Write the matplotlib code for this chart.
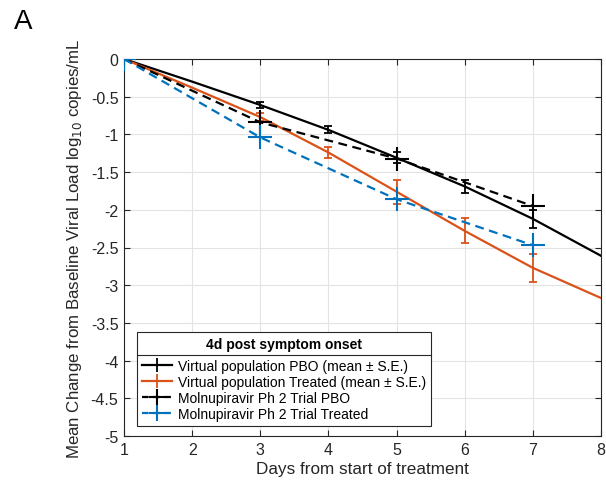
import matplotlib.pyplot as plt
from matplotlib.lines import Line2D

plt.rcParams['font.family'] = ['Liberation Sans', 'DejaVu Sans']
plt.rcParams['axes.unicode_minus'] = False

# model (virtual population), daily
days_model = [1, 2, 3, 4, 5, 6, 7, 8]
pbo_model = [0, -0.30, -0.61, -0.94, -1.31, -1.69, -2.12, -2.61]
trt_model = [0, -0.38, -0.77, -1.24, -1.76, -2.28, -2.77, -3.17]
# error bars at days 3..7
err_days = [3, 4, 5, 6, 7]
pbo_mean = [-0.61, -0.94, -1.31, -1.69, -2.12]
pbo_se = [0.035, 0.045, 0.07, 0.09, 0.12]
trt_mean = [-0.77, -1.24, -1.76, -2.28, -2.77]
trt_se = [0.05, 0.075, 0.16, 0.165, 0.19]

# trial data
days_trial = [1, 3, 5, 7]
pbo_trial = [0, -0.84, -1.32, -1.95]
trt_trial = [0, -1.04, -1.86, -2.47]

orange = '#D95319'
blue = '#0072BD'
dark = '#262626'

fig = plt.figure(figsize=(6.06, 4.85), dpi=100)
ax = fig.add_axes([124 / 606, 1 - 437 / 485, 477 / 606, 377 / 485])

ax.plot(days_model, pbo_model, color='k', lw=1.6, zorder=3)
ax.plot(days_model, trt_model, color=orange, lw=1.6, zorder=3)
ax.errorbar(err_days, pbo_mean, yerr=pbo_se, fmt='none', ecolor='k', elinewidth=1.3, capsize=3, capthick=1.3, zorder=4)
ax.errorbar(err_days, trt_mean, yerr=trt_se, fmt='none', ecolor=orange, elinewidth=1.3, capsize=3, capthick=1.3, zorder=4)
ax.plot(days_trial, pbo_trial, color='k', ls='--', lw=1.6, dashes=(4, 2.5), marker='+', ms=17, mew=1.5, zorder=5)
ax.plot(days_trial, trt_trial, color=blue, ls='--', lw=1.6, dashes=(4, 2.5), marker='+', ms=17, mew=1.5, zorder=5)

ax.set_xlim(1, 8)
ax.set_ylim(-5, 0)
ax.set_xticks(range(1, 9))
ax.set_yticks([-5, -4.5, -4, -3.5, -3, -2.5, -2, -1.5, -1, -0.5, 0])
ax.set_yticklabels(['-5', '-4.5', '-4', '-3.5', '-3', '-2.5', '-2', '-1.5', '-1', '-0.5', '0'])
ax.grid(True, color='#e3e3e3', lw=0.8)
ax.set_axisbelow(True)
ax.tick_params(direction='in', top=True, right=True, labelsize=11.5, length=4, width=0.8, colors=dark, pad=4)
for s in ax.spines.values():
    s.set_color(dark)
    s.set_linewidth(0.8)
ax.set_xlabel('Days from start of treatment', fontsize=12.3, color=dark, labelpad=3)
ax.set_ylabel('Mean Change from Baseline Viral Load log$_{10}$ copies/mL', fontsize=12.2, color=dark, labelpad=5)

handles = [
    ax.errorbar([], [], yerr=[], color='k', lw=1.6, capsize=4, elinewidth=1.3),
    ax.errorbar([], [], yerr=[], color=orange, lw=1.6, capsize=4, elinewidth=1.3),
    Line2D([], [], color='k', ls='--', lw=1.6, dashes=(3, 2), marker='+', ms=12, mew=1.5),
    Line2D([], [], color=blue, ls='--', lw=1.6, dashes=(3, 2), marker='+', ms=12, mew=1.5),
]
labels = ['Virtual population PBO (mean \u00b1 S.E.)',
          'Virtual population Treated (mean \u00b1 S.E.)',
          'Molnupiravir Ph 2 Trial PBO',
          'Molnupiravir Ph 2 Trial Treated']
leg = ax.legend(handles, labels, loc='lower left', bbox_to_anchor=((137 - 124) / 477, 10 / 377),
                borderaxespad=0,
                title='4d post symptom onset', title_fontproperties={'weight': 'bold', 'size': 10},
                fontsize=10, fancybox=False, edgecolor=dark, framealpha=1,
                handlelength=2.2, labelspacing=0.15, borderpad=0.35, handletextpad=0.4)
leg.get_frame().set_linewidth(0.8)
leg._legend_box.sep = 6

fig.canvas.draw()
tb = leg.get_title().get_window_extent()
fb = leg.get_frame().get_window_extent()
hb = leg.get_texts()[0].get_window_extent()
inv = fig.transFigure.inverted()
y = (tb.y0 + hb.y1) / 2
(x0, yy), (x1, _) = inv.transform([(fb.x0, y), (fb.x1, y)])
fig.add_artist(Line2D([x0, x1], [yy, yy], color=dark, lw=0.8, zorder=10))

fig.text(23 / 606, 1 - 22 / 485, 'A', fontsize=20, va='center', ha='center')

fig.savefig('out.png', dpi=100)
